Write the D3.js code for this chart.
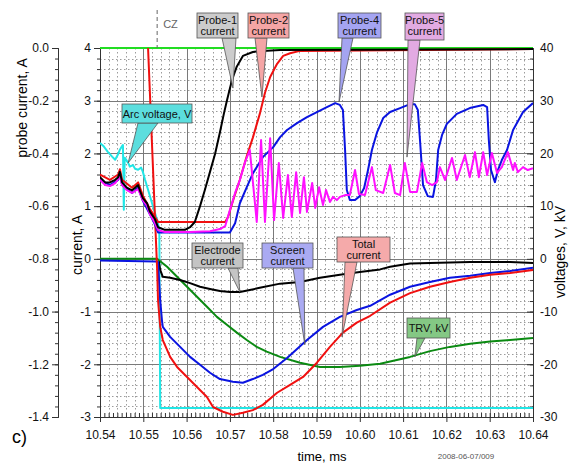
<!DOCTYPE html>
<html>
<head>
<meta charset="utf-8">
<script src="https://cdn.jsdelivr.net/npm/d3@7"></script>
<style>
body { margin: 0; background: #fff; }
text { font-family: 'Liberation Sans', Arial, sans-serif; }
</style>
</head>
<body>
<script>
// tick labels
var timeTicks = [10.54, 10.55, 10.56, 10.57, 10.58, 10.59, 10.60, 10.61, 10.62, 10.63, 10.64];
var currentTicks = [4, 3, 2, 1, 0, -1, -2, -3];
var voltTicks = [40, 30, 20, 10, 0, -10, -20, -30];
var probeTicks = [0, -0.2, -0.4, -0.6, -0.8, -1.0, -1.2, -1.4];

// series, [time ms, value]
// arc voltage, V (voltage axis)
var arcVoltage = [[10.5400,22.0],[10.5409,21.3],[10.5418,20.3],[10.5428,19.4],[10.5435,18.8],[10.5442,19.9],[10.5446,20.7],[10.5451,21.4],[10.5453,21.6],[10.5455,9.3],[10.5457,19.2],[10.5465,18.2],[10.5469,17.5],[10.5476,17.8],[10.5481,17.1],[10.5488,16.9],[10.5495,17.3],[10.5499,16.5],[10.5504,15.0],[10.5511,13.1],[10.5520,10.6],[10.5527,8.7],[10.5532,7.4],[10.5537,5.5],[10.5539,-28.3],[10.6400,-28.3]];
// TRV, kV (voltage axis)
var trv = [[10.5400,0],[10.5532,0],[10.5555,-1.5],[10.5578,-3.4],[10.5601,-5.3],[10.5624,-7.2],[10.5647,-9.1],[10.5670,-11.0],[10.5693,-12.5],[10.5716,-14.0],[10.5739,-15.4],[10.5762,-16.7],[10.5785,-17.6],[10.5816,-18.6],[10.5862,-19.7],[10.5908,-20.5],[10.5954,-20.5],[10.6000,-20.3],[10.6047,-19.9],[10.6116,-18.6],[10.6162,-17.5],[10.6208,-16.7],[10.6255,-16.1],[10.6301,-15.7],[10.6347,-15.4],[10.6400,-15.0]];
// currents, A (middle axis)
var electrodeCurrent = [[10.5536,-0.05],[10.5539,-0.21],[10.5545,-0.34],[10.5562,-0.36],[10.5585,-0.40],[10.5608,-0.46],[10.5631,-0.53],[10.5654,-0.57],[10.5677,-0.61],[10.5700,-0.63],[10.5723,-0.63],[10.5746,-0.59],[10.5769,-0.55],[10.5816,-0.47],[10.5862,-0.44],[10.5908,-0.36],[10.5954,-0.30],[10.6000,-0.25],[10.6047,-0.20],[10.6070,-0.15],[10.6116,-0.09],[10.6162,-0.08],[10.6255,-0.06],[10.6347,-0.06],[10.6400,-0.08]];
var screenCurrent = [[10.5400,-0.03],[10.5529,-0.05],[10.5534,-0.06],[10.5539,-0.78],[10.5543,-1.16],[10.5545,-1.29],[10.5562,-1.48],[10.5585,-1.67],[10.5608,-1.86],[10.5631,-2.01],[10.5654,-2.16],[10.5677,-2.28],[10.5707,-2.33],[10.5730,-2.35],[10.5753,-2.28],[10.5776,-2.20],[10.5800,-2.09],[10.5832,-1.88],[10.5878,-1.54],[10.5915,-1.29],[10.5954,-1.10],[10.5993,-0.97],[10.6024,-0.89],[10.6070,-0.68],[10.6116,-0.53],[10.6162,-0.44],[10.6208,-0.36],[10.6255,-0.32],[10.6301,-0.27],[10.6347,-0.23],[10.6400,-0.17]];
var totalCurrent = [[10.5511,4.0],[10.5532,-0.21],[10.5534,-0.78],[10.5539,-1.29],[10.5545,-1.54],[10.5562,-1.86],[10.5578,-2.05],[10.5601,-2.24],[10.5624,-2.43],[10.5647,-2.62],[10.5661,-2.81],[10.5684,-2.90],[10.5707,-2.96],[10.5730,-2.92],[10.5753,-2.87],[10.5776,-2.77],[10.5809,-2.54],[10.5839,-2.39],[10.5869,-2.24],[10.5901,-1.97],[10.5931,-1.67],[10.5961,-1.40],[10.5993,-1.21],[10.6024,-1.08],[10.6070,-0.83],[10.6116,-0.65],[10.6162,-0.53],[10.6208,-0.44],[10.6255,-0.36],[10.6301,-0.30],[10.6347,-0.27],[10.6400,-0.21]];
// probe currents, A (left axis)
var probe3 = [[10.5400,0],[10.6400,0]];
var probe1 = [[10.5400,-0.49],[10.5412,-0.51],[10.5423,-0.51],[10.5435,-0.50],[10.5442,-0.49],[10.5446,-0.47],[10.5451,-0.51],[10.5462,-0.53],[10.5474,-0.54],[10.5481,-0.53],[10.5488,-0.52],[10.5492,-0.54],[10.5499,-0.57],[10.5509,-0.59],[10.5515,-0.62],[10.5527,-0.65],[10.5534,-0.68],[10.5550,-0.69],[10.5573,-0.69],[10.5596,-0.69],[10.5608,-0.68],[10.5619,-0.66],[10.5631,-0.60],[10.5642,-0.54],[10.5654,-0.47],[10.5666,-0.40],[10.5677,-0.32],[10.5686,-0.25],[10.5693,-0.20],[10.5705,-0.12],[10.5716,-0.07],[10.5730,-0.03],[10.5753,-0.015],[10.5776,-0.011],[10.5816,-0.008],[10.6400,-0.004]];
var probe2 = [[10.5400,-0.48],[10.5423,-0.50],[10.5442,-0.48],[10.5446,-0.46],[10.5451,-0.50],[10.5474,-0.53],[10.5488,-0.51],[10.5499,-0.56],[10.5515,-0.61],[10.5527,-0.64],[10.5534,-0.66],[10.5689,-0.66],[10.5696,-0.64],[10.5707,-0.58],[10.5723,-0.50],[10.5739,-0.41],[10.5753,-0.34],[10.5769,-0.25],[10.5781,-0.17],[10.5793,-0.11],[10.5809,-0.06],[10.5823,-0.03],[10.5839,-0.02],[10.5862,-0.011],[10.6400,-0.004]];
var probe4 = [[10.5400,-0.50],[10.5423,-0.52],[10.5442,-0.50],[10.5446,-0.48],[10.5451,-0.52],[10.5474,-0.55],[10.5488,-0.53],[10.5499,-0.58],[10.5515,-0.63],[10.5527,-0.67],[10.5534,-0.70],[10.5700,-0.70],[10.5712,-0.665],[10.5723,-0.589],[10.5739,-0.528],[10.5753,-0.476],[10.5776,-0.414],[10.5800,-0.376],[10.5816,-0.338],[10.5832,-0.311],[10.5855,-0.285],[10.5878,-0.262],[10.5901,-0.243],[10.5924,-0.224],[10.5943,-0.209],[10.5954,-0.216],[10.5961,-0.235],[10.5966,-0.387],[10.5970,-0.539],[10.5977,-0.577],[10.5989,-0.577],[10.6000,-0.562],[10.6010,-0.531],[10.6019,-0.463],[10.6028,-0.387],[10.6040,-0.319],[10.6054,-0.266],[10.6070,-0.243],[10.6093,-0.228],[10.6116,-0.213],[10.6127,-0.213],[10.6134,-0.235],[10.6139,-0.349],[10.6146,-0.520],[10.6157,-0.562],[10.6169,-0.565],[10.6176,-0.501],[10.6181,-0.387],[10.6190,-0.330],[10.6201,-0.288],[10.6224,-0.250],[10.6254,-0.228],[10.6285,-0.216],[10.6294,-0.224],[10.6298,-0.349],[10.6303,-0.463],[10.6312,-0.509],[10.6319,-0.463],[10.6328,-0.425],[10.6340,-0.387],[10.6354,-0.311],[10.6377,-0.243],[10.6400,-0.209]];
var probe5 = [[10.5400,-0.50],[10.5412,-0.52],[10.5423,-0.524],[10.5435,-0.513],[10.5442,-0.497],[10.5446,-0.486],[10.5451,-0.520],[10.5462,-0.539],[10.5474,-0.550],[10.5488,-0.535],[10.5499,-0.577],[10.5509,-0.600],[10.5515,-0.630],[10.5527,-0.664],[10.5534,-0.691],[10.5550,-0.698],[10.5608,-0.698],[10.5654,-0.695],[10.5677,-0.687],[10.5689,-0.676],[10.5700,-0.615],[10.5712,-0.550],[10.5723,-0.501],[10.5735,-0.433],[10.5746,-0.387],[10.5762,-0.660],[10.5772,-0.349],[10.5781,-0.660],[10.5793,-0.342],[10.5802,-0.653],[10.5813,-0.436],[10.5823,-0.645],[10.5834,-0.482],[10.5843,-0.641],[10.5853,-0.471],[10.5862,-0.626],[10.5871,-0.490],[10.5878,-0.622],[10.5890,-0.512],[10.5897,-0.607],[10.5906,-0.528],[10.5915,-0.596],[10.5922,-0.539],[10.5931,-0.584],[10.5938,-0.565],[10.5947,-0.577],[10.5954,-0.565],[10.5966,-0.558],[10.5977,-0.558],[10.5989,-0.463],[10.5998,-0.554],[10.6012,-0.558],[10.6028,-0.452],[10.6037,-0.539],[10.6054,-0.550],[10.6070,-0.444],[10.6081,-0.550],[10.6093,-0.558],[10.6104,-0.436],[10.6116,-0.546],[10.6132,-0.546],[10.6144,-0.436],[10.6155,-0.509],[10.6167,-0.520],[10.6178,-0.509],[10.6185,-0.452],[10.6197,-0.501],[10.6213,-0.417],[10.6224,-0.501],[10.6243,-0.406],[10.6254,-0.490],[10.6266,-0.395],[10.6275,-0.490],[10.6285,-0.395],[10.6294,-0.482],[10.6305,-0.398],[10.6317,-0.474],[10.6328,-0.452],[10.6342,-0.395],[10.6354,-0.463],[10.6358,-0.436],[10.6365,-0.471],[10.6377,-0.452],[10.6388,-0.463],[10.6400,-0.456]];

var czTime = 10.5532;

var W = 571, H = 466;
var pL = 100, pR = 533, pT = 48, pB = 417;

var svg = d3.select("body").append("svg")
    .attr("width", W)
    .attr("height", H);

var x = d3.scaleLinear().domain([10.54, 10.64]).range([pL, pR]);
var yc = d3.scaleLinear().domain([-3, 4]).range([pB, pT]);
var yv = d3.scaleLinear().domain([-30, 40]).range([pB, pT]);
var yp = d3.scaleLinear().domain([-1.4, 0]).range([pB, pT]);

// grid
var grid = svg.append("g");
var minorX = d3.range(10.542, 10.64, 0.002).filter(function(d, i) { return (i + 1) % 5 != 0; });
var minorY = d3.range(-2.8, 4, 0.2).filter(function(d) { return Math.abs(d - Math.round(d)) > 0.05; });
grid.selectAll(".mx").data(minorX).enter().append("line")
    .attr("x1", function(d) { return Math.round(x(d)) + 0.5; })
    .attr("x2", function(d) { return Math.round(x(d)) + 0.5; })
    .attr("y1", pT).attr("y2", pB)
    .style("stroke", "#9c9c9c").style("stroke-dasharray", "1.5,2.5");
grid.selectAll(".my").data(minorY).enter().append("line")
    .attr("y1", function(d) { return Math.round(yc(d)) + 0.5; })
    .attr("y2", function(d) { return Math.round(yc(d)) + 0.5; })
    .attr("x1", pL).attr("x2", pR)
    .style("stroke", "#9c9c9c").style("stroke-dasharray", "1.5,2.5");
grid.selectAll(".gx").data(timeTicks.slice(1, -1)).enter().append("line")
    .attr("x1", function(d) { return Math.round(x(d)) + 0.5; })
    .attr("x2", function(d) { return Math.round(x(d)) + 0.5; })
    .attr("y1", pT).attr("y2", pB)
    .style("stroke", "#7a7a7a");
grid.selectAll(".gy").data(currentTicks.slice(1, -1)).enter().append("line")
    .attr("y1", function(d) { return Math.round(yc(d)) + 0.5; })
    .attr("y2", function(d) { return Math.round(yc(d)) + 0.5; })
    .attr("x1", pL).attr("x2", pR)
    .style("stroke", "#7a7a7a");

// axes
function styleAxis(g) {
    g.selectAll("path, line").style("stroke", "#333");
    g.selectAll("text").style("font-size", "12px").style("fill", "#111")
        .style("font-family", "'Liberation Sans', Arial, sans-serif");
}

svg.append("g").attr("transform", "translate(0," + pB + ")")
    .call(d3.axisBottom(x).tickValues(d3.range(10.54, 10.6405, 0.001)).tickSize(-4).tickFormat(""))
    .call(styleAxis);
svg.append("g").attr("transform", "translate(0," + pB + ")")
    .call(d3.axisBottom(x).tickValues(timeTicks).tickSize(5).tickPadding(8)
        .tickFormat(function(d) { return d.toFixed(2); }))
    .call(styleAxis);

svg.append("g").attr("transform", "translate(" + pL + ",0)")
    .call(d3.axisLeft(yc).tickValues(d3.range(-3, 4.01, 0.2)).tickSize(3).tickFormat(""))
    .call(styleAxis);
svg.append("g").attr("transform", "translate(" + pL + ",0)")
    .call(d3.axisLeft(yc).tickValues(currentTicks).tickSize(6).tickPadding(3)
        .tickFormat(function(d) { return d; }))
    .call(styleAxis);

svg.append("g").attr("transform", "translate(" + pR + ",0)")
    .call(d3.axisRight(yv).tickValues(d3.range(-30, 40.1, 2)).tickSize(-3).tickFormat(""))
    .call(styleAxis);
svg.append("g").attr("transform", "translate(" + pR + ",0)")
    .call(d3.axisRight(yv).tickValues(voltTicks).tickSize(-6).tickPadding(7)
        .tickFormat(function(d) { return d; }))
    .call(styleAxis);

svg.append("g").attr("transform", "translate(58,0)")
    .call(d3.axisLeft(yp).tickValues(d3.range(-1.4, 0.001, 0.04)).tickSize(3).tickFormat(""))
    .call(styleAxis);
svg.append("g").attr("transform", "translate(58,0)")
    .call(d3.axisLeft(yp).tickValues(probeTicks).tickSize(6).tickPadding(3)
        .tickFormat(function(d) { return d.toFixed(1); }))
    .call(styleAxis);

svg.append("line").attr("x1", pL).attr("x2", pR).attr("y1", pT + 0.5).attr("y2", pT + 0.5)
    .style("stroke", "#333");

// curves
svg.append("clipPath").attr("id", "clip").append("rect")
    .attr("x", pL).attr("y", pT - 2).attr("width", pR - pL).attr("height", pB - pT + 2);
var plot = svg.append("g").attr("clip-path", "url(#clip)");

function draw(data, ys, color) {
    var line = d3.line()
        .x(function(d) { return x(d[0]); })
        .y(function(d) { return ys(d[1]); });
    plot.append("path").datum(data).attr("d", line)
        .style("fill", "none").style("stroke", color)
        .style("stroke-width", 2).style("stroke-linejoin", "round");
}

draw(probe3, yp, "#22dd22");
draw(arcVoltage, yv, "#22e6e6");
draw(trv, yv, "#0b8a12");
draw(electrodeCurrent, yc, "#000000");
draw(screenCurrent, yc, "#0a14e0");
draw(totalCurrent, yc, "#f01010");
draw(probe4, yp, "#0a14e0");
draw(probe2, yp, "#f01010");
draw(probe5, yp, "#ff10ff");
draw(probe1, yp, "#000000");

// current zero marker
svg.append("line")
    .attr("x1", x(czTime)).attr("x2", x(czTime)).attr("y1", 10).attr("y2", pT)
    .style("stroke", "#666").style("stroke-dasharray", "4,3");
svg.append("text").attr("x", x(czTime) + 6).attr("y", 28)
    .style("font-size", "11px").style("fill", "#666").text("CZ");

// callouts
var callouts = [
    {lines: ["Arc voltage, V"], fill: "#5cdede", box: [122, 104, 70, 19], base: [138, 158], tip: [10.5465, 18.2], ys: yv},
    {lines: ["Probe-1", "current"], fill: "#cccccc", box: [197, 13, 41, 25], base: [222, 236], tip: [10.5707, -0.152], ys: yp},
    {lines: ["Probe-2", "current"], fill: "#f5a5a5", box: [248, 13, 41, 25], base: [255, 267], tip: [10.5774, -0.186], ys: yp},
    {lines: ["Probe-4", "current"], fill: "#a4a4f2", box: [338, 13, 43, 25], base: [342, 353], tip: [10.5952, -0.205], ys: yp},
    {lines: ["Probe-5", "current"], fill: "#e2aae2", box: [405, 13, 39, 27], base: [408, 420], tip: [10.6109, -0.414], ys: yp},
    {lines: ["Electrode", "current"], fill: "#c4c4c4", box: [192, 243, 51, 25], base: [228, 238], tip: [10.5723, -0.63], ys: yc},
    {lines: ["Screen", "current"], fill: "#aaaaf2", box: [262, 243, 51, 25], base: [293, 304], tip: [10.5873, -1.63], ys: yc},
    {lines: ["Total", "current"], fill: "#f5aaaa", box: [337, 237, 53, 25], base: [345, 357], tip: [10.5959, -1.48], ys: yc},
    {lines: ["TRV, kV"], fill: "#84c884", box: [407, 318, 43, 20], base: [417, 425], tip: [10.6127, -18.6], ys: yv}
];

var notes = svg.append("g");
callouts.forEach(function(c) {
    var bx = c.box[0], by = c.box[1], bw = c.box[2], bh = c.box[3];
    var tx = x(c.tip[0]), ty = c.ys(c.tip[1]);
    notes.append("path")
        .attr("d", "M" + c.base[0] + "," + (by + bh) + "L" + tx + "," + ty + "L" + c.base[1] + "," + (by + bh) + "Z")
        .style("fill", c.fill).style("stroke", "#555").style("stroke-width", 0.8);
    notes.append("rect").attr("x", bx).attr("y", by).attr("width", bw).attr("height", bh)
        .style("fill", c.fill).style("stroke", "#555").style("stroke-width", 0.8);
    c.lines.forEach(function(t, i) {
        notes.append("text")
            .attr("x", bx + bw / 2)
            .attr("y", by + (c.lines.length == 1 ? bh / 2 + 4 : 11 + i * 11))
            .attr("text-anchor", "middle")
            .style("font-size", "11px").style("fill", "#111")
            .text(t);
    });
});

// titles
svg.append("text").attr("transform", "translate(27,108) rotate(-90)")
    .attr("text-anchor", "middle").style("font-size", "14px").text("probe current, A");
svg.append("text").attr("transform", "translate(82,245) rotate(-90)")
    .attr("text-anchor", "middle").style("font-size", "14px").text("current, A");
svg.append("text").attr("transform", "translate(565,252) rotate(-90)")
    .attr("text-anchor", "middle").style("font-size", "14px").text("voltages, V, kV");
svg.append("text").attr("x", 322).attr("y", 461)
    .attr("text-anchor", "middle").style("font-size", "13px").text("time, ms");
svg.append("text").attr("x", 12).attr("y", 443)
    .style("font-size", "18px").text("c)");
svg.append("text").attr("x", 466).attr("y", 459)
    .attr("text-anchor", "middle").style("font-size", "8px").style("fill", "#555").text("2008-06-07/009");
</script>
</body>
</html>
